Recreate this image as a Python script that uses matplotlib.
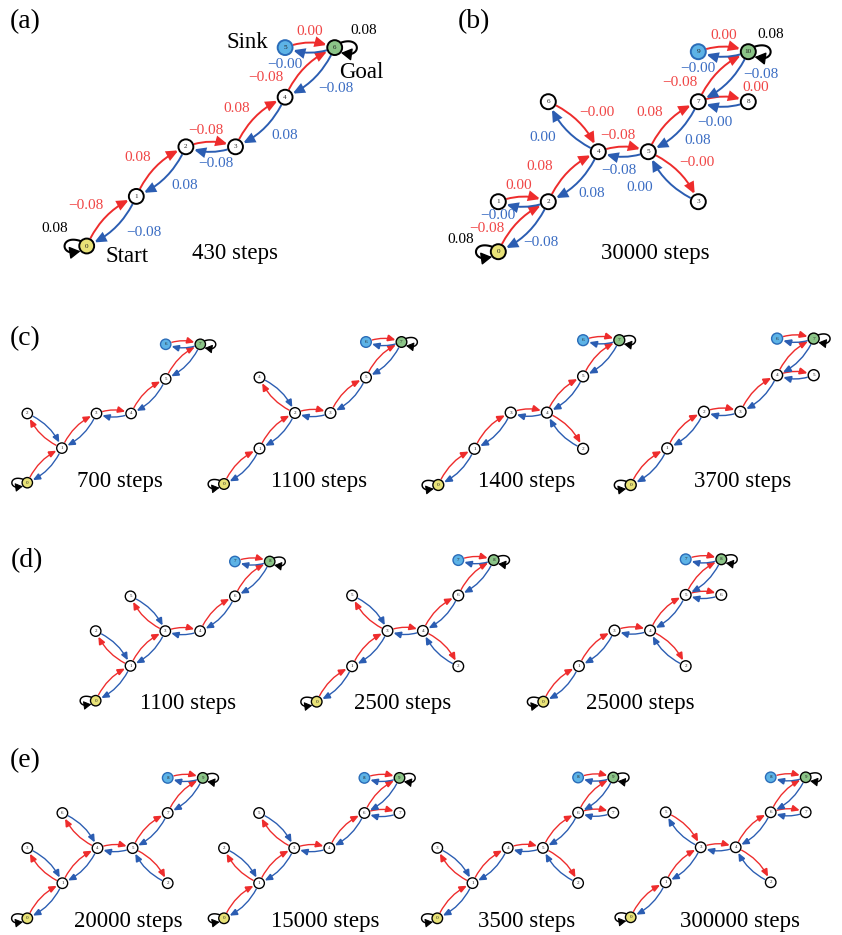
import matplotlib
matplotlib.use("Agg")
import matplotlib.pyplot as plt
from matplotlib.patches import Circle, FancyArrowPatch
import numpy as np

plt.rcParams['font.family'] = ['Liberation Serif', 'DejaVu Serif']

# ---------------------------------------------------------------- colours
RED = '#ee2c2c'
BLUE = '#2b5db2'
RED_TXT = '#f04646'
BLUE_TXT = '#3b6dc3'
START_FC = '#e8e277'
GOAL_FC = '#8bc487'
SINK_FC = '#5db3e6'
SINK_EC = '#2a6cb8'

# ---------------------------------------------------------------- graphs
# node -> (column, row) on the layout grid; edges are (u, v) for the red
# action, the blue action runs v -> u.

# (a) 430 steps
A_NODES = {0: (0, 0), 1: (1, 1), 2: (2, 2), 3: (3, 2), 4: (4, 3), 5: (4, 4), 6: (5, 4)}
A_EDGES = [(0, 1), (1, 2), (2, 3), (3, 4), (4, 6), (5, 6)]
A_RED_VALUES = [-0.08, 0.08, -0.08, 0.08, -0.08, 0.00]
A_BLUE_VALUES = [-0.08, 0.08, -0.08, 0.08, -0.08, -0.00]
A_LOOP_VALUES = [0.08, 0.08]          # start, goal

# (b) 30000 steps
B_NODES = {0: (0, 0), 1: (0, 1), 2: (1, 1), 4: (2, 2), 5: (3, 2), 6: (1, 3),
           3: (4, 1), 7: (4, 3), 8: (5, 3), 9: (4, 4), 10: (5, 4)}
B_EDGES = [(0, 2), (1, 2), (2, 4), (6, 4), (4, 5), (5, 3), (5, 7), (7, 8), (7, 10), (9, 10)]
B_RED_VALUES = [-0.08, 0.00, 0.08, -0.00, -0.08, -0.00, 0.08, 0.00, -0.08, 0.00]
B_BLUE_VALUES = [-0.08, -0.00, 0.08, 0.00, -0.08, 0.00, 0.08, -0.00, -0.08, -0.00]
B_LOOP_VALUES = [0.08, 0.08]

# (c)
C1_NODES = {0: (0, 0), 1: (1, 1), 2: (0, 2), 3: (2, 2), 4: (3, 2), 5: (4, 3), 6: (4, 4), 7: (5, 4)}
C1_EDGES = [(0, 1), (1, 2), (1, 3), (3, 4), (4, 5), (5, 7), (6, 7)]
C2_NODES = {0: (0, 0), 1: (1, 1), 2: (2, 2), 3: (3, 2), 4: (1, 3), 5: (4, 3), 6: (4, 4), 7: (5, 4)}
C2_EDGES = [(0, 1), (1, 2), (2, 4), (2, 3), (3, 5), (5, 7), (6, 7)]
C3_NODES = {0: (0, 0), 1: (1, 1), 3: (2, 2), 4: (3, 2), 2: (4, 1), 5: (4, 3), 6: (4, 4), 7: (5, 4)}
C3_EDGES = [(0, 1), (1, 3), (3, 4), (4, 2), (4, 5), (5, 7), (6, 7)]
C4_NODES = {0: (0, 0), 1: (1, 1), 2: (2, 2), 3: (3, 2), 4: (4, 3), 5: (5, 3), 6: (4, 4), 7: (5, 4)}
C4_EDGES = [(0, 1), (1, 2), (2, 3), (3, 4), (4, 5), (4, 7), (6, 7)]
C_STEPS = [700, 1100, 1400, 3700]

# (d)
D1_NODES = {0: (0, 0), 1: (1, 1), 2: (0, 2), 3: (2, 2), 4: (3, 2), 5: (1, 3), 6: (4, 3), 7: (4, 4), 8: (5, 4)}
D1_EDGES = [(0, 1), (1, 2), (1, 3), (3, 5), (3, 4), (4, 6), (6, 8), (7, 8)]
D2_NODES = {0: (0, 0), 1: (1, 1), 3: (2, 2), 5: (1, 3), 4: (3, 2), 2: (4, 1), 6: (4, 3), 7: (4, 4), 8: (5, 4)}
D2_EDGES = [(0, 1), (1, 3), (3, 5), (3, 4), (4, 2), (4, 6), (6, 8), (7, 8)]
D3_NODES = {0: (0, 0), 1: (1, 1), 3: (2, 2), 4: (3, 2), 2: (4, 1), 5: (4, 3), 6: (5, 3), 7: (4, 4), 8: (5, 4)}
D3_EDGES = [(0, 1), (1, 3), (3, 4), (4, 2), (4, 5), (5, 6), (5, 8), (7, 8)]
D_STEPS = [1100, 2500, 25000]

# (e)
E1_NODES = {0: (0, 0), 1: (1, 1), 3: (0, 2), 4: (2, 2), 5: (3, 2), 6: (1, 3), 2: (4, 1),
            7: (4, 3), 8: (4, 4), 9: (5, 4)}
E1_EDGES = [(0, 1), (1, 3), (1, 4), (4, 6), (4, 5), (5, 2), (5, 7), (7, 9), (8, 9)]
E2_NODES = {0: (0, 0), 1: (1, 1), 2: (0, 2), 3: (2, 2), 4: (3, 2), 5: (1, 3), 6: (4, 3),
            7: (5, 3), 8: (4, 4), 9: (5, 4)}
E2_EDGES = [(0, 1), (1, 2), (1, 3), (3, 5), (3, 4), (4, 6), (6, 7), (6, 9), (8, 9)]
E3_NODES = {0: (0, 0), 1: (1, 1), 3: (0, 2), 4: (2, 2), 5: (3, 2), 2: (4, 1), 6: (4, 3),
            7: (5, 3), 8: (4, 4), 9: (5, 4)}
E3_EDGES = [(0, 1), (1, 3), (1, 4), (4, 5), (5, 2), (5, 6), (6, 7), (6, 9), (8, 9)]
E4_NODES = {0: (0, 0), 1: (1, 1), 3: (2, 2), 4: (3, 2), 5: (1, 3), 2: (4, 1), 6: (4, 3),
            7: (5, 3), 8: (4, 4), 9: (5, 4)}
E4_EDGES = [(0, 1), (1, 3), (5, 3), (3, 4), (4, 2), (4, 6), (6, 7), (6, 9), (8, 9)]
E_STEPS = [20000, 15000, 3500, 300000]

# ---------------------------------------------------------------- layout (pixels)
W, H = 842, 935
PX_PER_PT = 100 / 72
RAD = -0.2
EDGE_FS = 11
CAPTION_FS = 16.5
LETTER_FS = 20

PANELS = [
    # nodes, edges, steps, origin of node 0, grid spacing, caption centre
    dict(nodes=A_NODES, edges=A_EDGES, steps=430, origin=(86.7, 246.0), s=49.6, cap=(235, 254),
         red=A_RED_VALUES, blue=A_BLUE_VALUES, loops=A_LOOP_VALUES,
         nudge={(4, 6, 'r'): (-18, 21), (6, 5, 'b'): (-30, 0), (5, 6, 'r'): (5, 0), (1, 0, 'b'): (6, -5)},
         loop_lab=[(-32, -18), (29, -17)]),
    dict(nodes=B_NODES, edges=B_EDGES, steps=30000, origin=(498.3, 251.7), s=50.0, cap=(655, 253),
         red=B_RED_VALUES, blue=B_BLUE_VALUES, loops=B_LOOP_VALUES,
         nudge={(0, 2, 'r'): (-10, 17.5), (2, 0, 'b'): (-8, 0), (2, 1, 'b'): (-30, -3),
                (2, 4, 'r'): (-10, 4), (4, 2, 'b'): (-6, 3), (6, 4, 'r'): (8, 12),
                (4, 6, 'b'): (-17, -13), (5, 4, 'b'): (-9, 2), (5, 3, 'r'): (8, 12),
                (3, 5, 'b'): (-20, -13), (7, 8, 'r'): (37, 2), (8, 7, 'b'): (-13, 4),
                (7, 10, 'r'): (-17, 22), (10, 7, 'b'): (12, -18), (9, 10, 'r'): (5, 0),
                (10, 9, 'b'): (-30, 0)},
         loop_lab=[(-38, -12), (22, -17)]),
    dict(nodes=C1_NODES, edges=C1_EDGES, steps=C_STEPS[0], origin=(27.3, 482.7), s=34.6, cap=(120, 482)),
    dict(nodes=C2_NODES, edges=C2_EDGES, steps=C_STEPS[1], origin=(224.0, 484.0), s=35.5, cap=(319, 482)),
    dict(nodes=C3_NODES, edges=C3_EDGES, steps=C_STEPS[2], origin=(438.3, 485.0), s=36.2, cap=(527, 482)),
    dict(nodes=C4_NODES, edges=C4_EDGES, steps=C_STEPS[3], origin=(630.7, 485.0), s=36.6, cap=(743, 482)),
    dict(nodes=D1_NODES, edges=D1_EDGES, steps=D_STEPS[0], origin=(95.7, 700.7), s=34.8, cap=(188, 703)),
    dict(nodes=D2_NODES, edges=D2_EDGES, steps=D_STEPS[1], origin=(316.7, 701.7), s=35.4, cap=(403, 703)),
    dict(nodes=D3_NODES, edges=D3_EDGES, steps=D_STEPS[2], origin=(543.3, 701.7), s=35.6, cap=(640, 703)),
    dict(nodes=E1_NODES, edges=E1_EDGES, steps=E_STEPS[0], origin=(27.3, 918.3), s=35.1, cap=(128, 921)),
    dict(nodes=E2_NODES, edges=E2_EDGES, steps=E_STEPS[1], origin=(224.0, 918.3), s=35.1, cap=(325, 921)),
    dict(nodes=E3_NODES, edges=E3_EDGES, steps=E_STEPS[2], origin=(437.3, 918.3), s=35.2, cap=(527, 921)),
    dict(nodes=E4_NODES, edges=E4_EDGES, steps=E_STEPS[3], origin=(630.7, 917.3), s=35.0, cap=(740, 921)),
]

PANEL_LETTERS = [('(a)', (25.5, 21.5)), ('(b)', (473.5, 21.5)), ('(c)', (25.5, 338.5)),
                 ('(d)', (26.5, 560.5)), ('(e)', (25.5, 760.5))]


def fmt(v):
    return f"{v:.2f}".replace('-', '\u2212')


def to_px(panel, g):
    ox, oy = panel['origin']
    return np.array([ox + panel['s'] * g[0], oy - panel['s'] * g[1]])


def draw_arrow(ax, p, q, color, r, k):
    ax.add_patch(FancyArrowPatch(
        tuple(p), tuple(q), connectionstyle=f"arc3,rad={RAD}",
        arrowstyle="-|>,head_length=0.55,head_width=0.24",
        mutation_scale=12 * k, lw=1.4 * k, color=color,
        shrinkA=(r + 0.8) / PX_PER_PT, shrinkB=(r + 0.8) / PX_PER_PT,
        joinstyle='miter', capstyle='butt', zorder=2))


def draw_loop(ax, c, r, side, k):
    """Self-loop drawn beside a node, ending in an arrowhead at the node."""
    x, y = c
    a0, a1 = np.deg2rad(40), np.deg2rad(-40)
    p0 = np.array([x + side * r * np.cos(a0), y - r * np.sin(a0)])
    p3 = np.array([x + side * r * 1.1 * np.cos(a1), y - r * 1.1 * np.sin(a1)])
    p1 = np.array([x + side * 3.7 * r, y - 1.7 * r])
    p2 = np.array([x + side * 3.7 * r, y + 1.7 * r])
    t = np.linspace(0, 1, 80)[:, None]
    pts = ((1 - t) ** 3) * p0 + 3 * ((1 - t) ** 2) * t * p1 + 3 * (1 - t) * t ** 2 * p2 + t ** 3 * p3
    ax.plot(pts[:-8, 0], pts[:-8, 1], color='black', lw=1.5 * k, solid_capstyle='butt', zorder=2)
    ax.add_patch(FancyArrowPatch(
        tuple(pts[-14]), tuple(pts[-1]), arrowstyle="-|>,head_length=0.55,head_width=0.32",
        mutation_scale=12 * k, lw=1.0 * k, color='black', shrinkA=0, shrinkB=0, zorder=2))


def label_anchor(p, q, text):
    d = q - p
    e = d / np.hypot(*d)
    n = np.array([e[1], -e[0]])
    hw = 4.2 * len(text)
    gap = 11 + hw * abs(n[0]) + 5.5 * abs(n[1])
    return p + 0.4 * d + n * gap


fig = plt.figure(figsize=(W / 100, H / 100), dpi=100)
ax = fig.add_axes([0, 0, 1, 1])
ax.set_xlim(0, W)
ax.set_ylim(H, 0)
ax.axis('off')

for panel in PANELS:
    nodes = panel['nodes']
    s = panel['s']
    k = s / 50.0
    r = 0.15 * s
    goal = max(nodes)
    sink = goal - 1
    pos = {n: to_px(panel, g) for n, g in nodes.items()}

    for i, (u, v) in enumerate(panel['edges']):
        draw_arrow(ax, pos[u], pos[v], RED, r, k)
        draw_arrow(ax, pos[v], pos[u], BLUE, r, k)
        if 'red' in panel:
            for (a, b, tag, vals, col) in ((u, v, 'r', panel['red'], RED_TXT),
                                           (v, u, 'b', panel['blue'], BLUE_TXT)):
                txt = fmt(vals[i])
                xy = label_anchor(pos[a], pos[b], txt)
                dx, dy = panel['nudge'].get((a, b, tag), (0, 0))
                ax.text(xy[0] + dx, xy[1] + dy, txt, color=col, fontsize=EDGE_FS,
                        ha='center', va='center', zorder=5)

    draw_loop(ax, pos[0], r, -1, k)
    draw_loop(ax, pos[goal], r, +1, k)
    if 'loops' in panel:
        for node, val, off in zip((0, goal), panel['loops'], panel['loop_lab']):
            ax.text(pos[node][0] + off[0], pos[node][1] + off[1], fmt(val),
                    color='black', fontsize=EDGE_FS, ha='center', va='center', zorder=5)

    for n, p in pos.items():
        fc, ec = 'white', 'black'
        if n == 0:
            fc = START_FC
        elif n == goal:
            fc = GOAL_FC
        elif n == sink:
            fc, ec = SINK_FC, SINK_EC
        ax.add_patch(Circle(tuple(p), r, fc=fc, ec=ec, lw=1.4 * k, zorder=3))
        ax.text(p[0], p[1], str(n), fontsize=5.2 * k, ha='center', va='center',
                color='#222222', zorder=4)

    ax.text(panel['cap'][0], panel['cap'][1], f"{panel['steps']} steps", fontsize=CAPTION_FS,
            ha='center', va='center', zorder=5)

# annotations on the first panel
a_pos = {n: to_px(PANELS[0], g) for n, g in A_NODES.items()}
ax.text(a_pos[5][0] - 38, a_pos[5][1] - 5, 'Sink', fontsize=CAPTION_FS, ha='center', va='center')
ax.text(a_pos[6][0] + 27, a_pos[6][1] + 25, 'Goal', fontsize=CAPTION_FS, ha='center', va='center')
ax.text(a_pos[0][0] + 40, a_pos[0][1] + 11, 'Start', fontsize=CAPTION_FS, ha='center', va='center')

for lab, (x, y) in PANEL_LETTERS:
    ax.text(x, y, lab, fontsize=LETTER_FS, ha='center', va='center')

fig.savefig('out.png', dpi=100)
